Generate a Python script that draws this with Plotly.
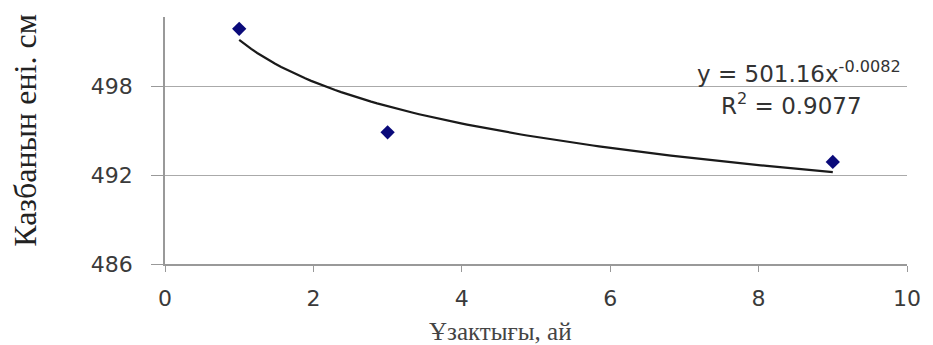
import numpy as np
import plotly.graph_objects as go

months = [1, 3, 9]
width_cm = [501.9, 494.9, 492.9]
coef_a = 501.16
coef_b = -0.0082
r2 = 0.9077
x_ticks = [0, 2, 4, 6, 8, 10]
y_ticks = [486, 492, 498]
x_title = "Ұзактығы, ай"
y_title = "Казбанын ені. см"

xt = np.linspace(min(months), max(months), 100)
yt = coef_a * xt ** coef_b

fig = go.Figure()
fig.add_trace(go.Scatter(x=xt, y=yt, mode="lines",
                         line=dict(color="#1a1a1a", width=2.2), showlegend=False))
fig.add_trace(go.Scatter(x=months, y=width_cm, mode="markers",
                         marker=dict(symbol="diamond", size=11, color="#0a0a7a"),
                         showlegend=False))

eq_font = dict(family="DejaVu Sans", size=23, color="#333333")
fig.add_annotation(x=8.55, y=499.0, xref="x", yref="y", showarrow=False,
                   text=f"y = {coef_a}x<sup>{coef_b}</sup>", font=eq_font)
fig.add_annotation(x=8.45, y=496.8, xref="x", yref="y", showarrow=False,
                   text=f"R<sup>2</sup> = {r2}", font=eq_font)

# axis titles
fig.add_annotation(x=0.452, y=-0.275, xref="paper", yref="paper", showarrow=False,
                   xanchor="center", yanchor="middle", text=x_title,
                   font=dict(family="Liberation Serif, Times New Roman", size=25, color="#444444"))
fig.add_annotation(x=-0.189, y=0.5425, xref="paper", yref="paper", showarrow=False,
                   xanchor="center", yanchor="middle", text=y_title, textangle=-90,
                   font=dict(family="Liberation Serif, Times New Roman", size=32, color="#222222"))

fig.update_layout(
    width=933, height=345,
    margin=dict(l=165, r=23, t=17, b=81),
    plot_bgcolor="white", paper_bgcolor="white",
)
tick_font = dict(family="DejaVu Sans", size=22, color="#3a3a3a")
fig.update_xaxes(range=[0, 10], tickvals=x_ticks, showgrid=False,
                 showline=True, linecolor="#999999", linewidth=1.5,
                 ticks="outside", tickcolor="#999999", ticklen=6,
                 ticklabelstandoff=8, tickfont=tick_font, zeroline=False)
fig.update_yaxes(range=[486, 502.7], tickvals=y_ticks, showgrid=True,
                 gridcolor="#aaaaaa", gridwidth=1.2,
                 showline=True, linecolor="#999999", linewidth=1.5,
                 ticks="outside", tickcolor="#999999", ticklen=12,
                 ticklabelstandoff=14, tickfont=tick_font, zeroline=False)

fig.write_html("out.html")
